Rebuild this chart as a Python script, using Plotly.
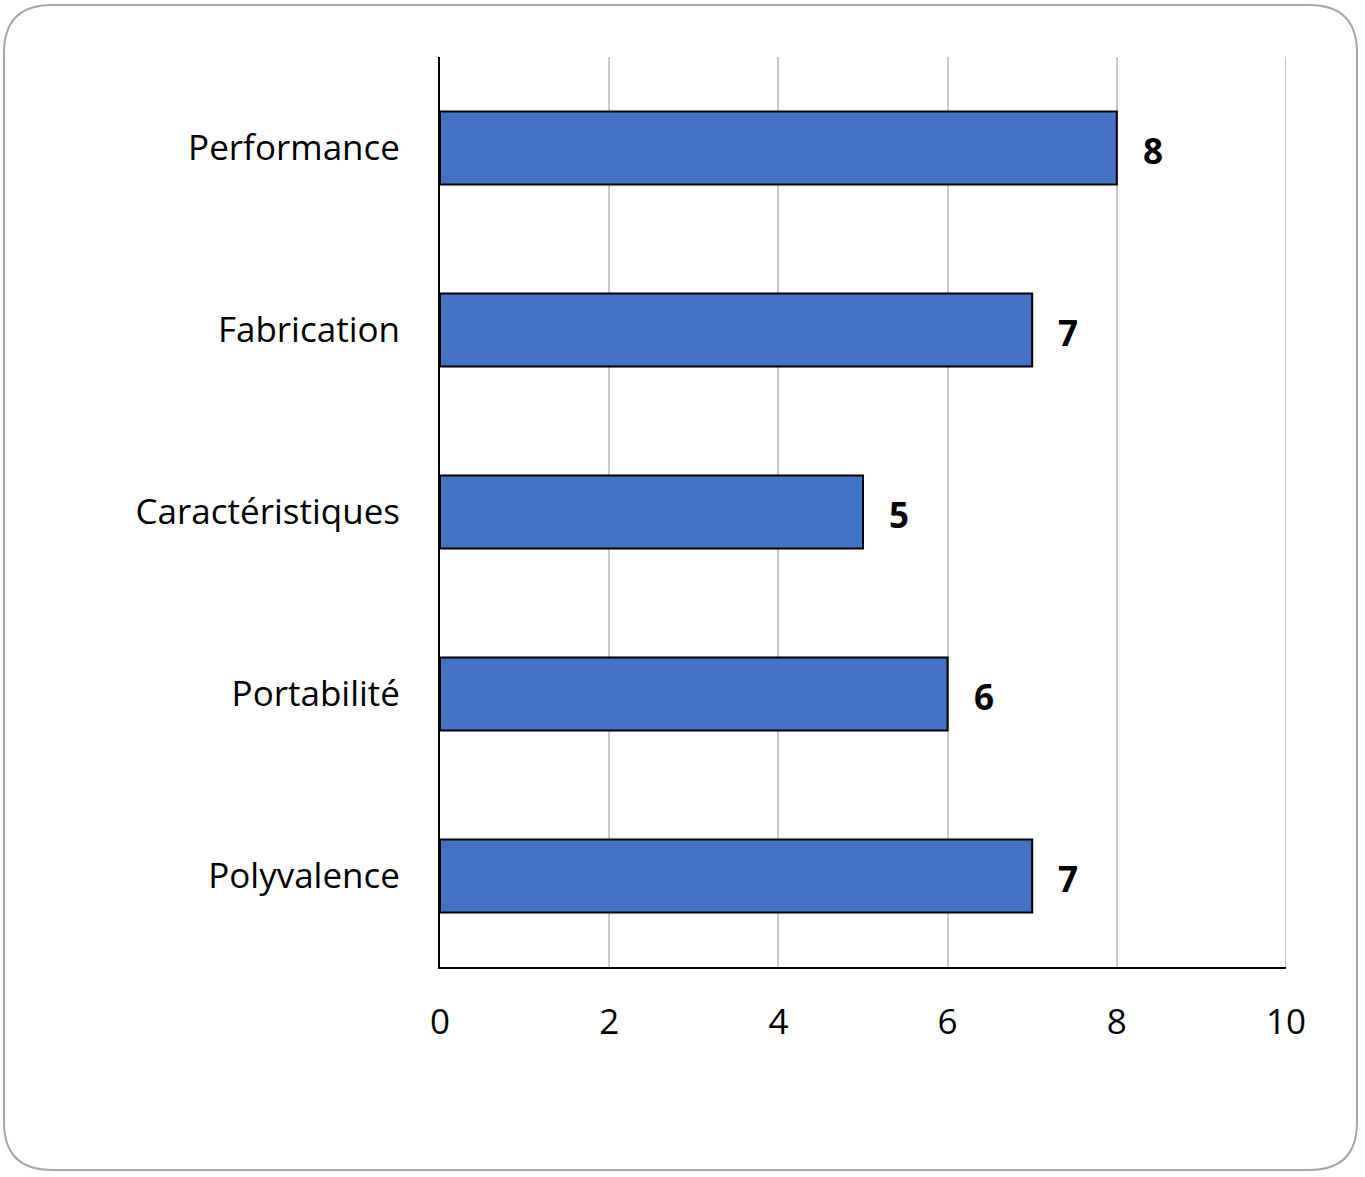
import plotly.graph_objects as go

categories = ["Performance", "Fabrication", "Caractéristiques", "Portabilité", "Polyvalence"]
values = [8, 7, 5, 6, 7]
x_ticks = [0, 2, 4, 6, 8, 10]

W, H = 1365, 1177
L, R, T, B = 440, 1286, 57, 967
FONT = "Open Sans, Noto Sans, sans-serif"

fig = go.Figure()
fig.add_trace(go.Bar(
    y=categories, x=values, orientation="h", width=0.4,
    marker=dict(color="#4472C4", line=dict(color="black", width=2)),
    hoverinfo="skip",
))

for c, v in zip(categories, values):
    fig.add_annotation(x=v, y=c, text=f"<b>{v}</b>", showarrow=False,
                       xanchor="left", xshift=24, yshift=-2,
                       font=dict(family=FONT, size=35, color="black"))

# right-end gridline at x = 10
fig.add_shape(type="line", xref="x", yref="paper", x0=x_ticks[-1], x1=x_ticks[-1], y0=0, y1=1,
              line=dict(color="#c8c8c8", width=2), layer="below")

# rounded border in paper coords
pw, ph = R - L, B - T
def px(x):
    return (x - L) / pw
def py(y):
    return (B - y) / ph
x0, x1, y0, y1, r = 4, 1357, 5, 1170, 48
path = (f"M {px(x0+r)},{py(y0)} L {px(x1-r)},{py(y0)} Q {px(x1)},{py(y0)} {px(x1)},{py(y0+r)} "
        f"L {px(x1)},{py(y1-r)} Q {px(x1)},{py(y1)} {px(x1-r)},{py(y1)} "
        f"L {px(x0+r)},{py(y1)} Q {px(x0)},{py(y1)} {px(x0)},{py(y1-r)} "
        f"L {px(x0)},{py(y0+r)} Q {px(x0)},{py(y0)} {px(x0+r)},{py(y0)} Z")
fig.add_shape(type="path", path=path, xref="paper", yref="paper",
              line=dict(color="#a6a6a6", width=2), layer="below")

fig.update_layout(
    width=W, height=H,
    margin=dict(l=L, r=W - R, t=T, b=H - B, pad=0),
    paper_bgcolor="white", plot_bgcolor="white",
    showlegend=False,
    font=dict(family=FONT, size=35, color="black"),
    xaxis=dict(range=[0, 10], tickvals=x_ticks, ticktext=[str(t) for t in x_ticks],
               showgrid=True, gridcolor="#c8c8c8", gridwidth=2,
               showline=True, linecolor="black", linewidth=2,
               ticks="", ticklabelstandoff=23, zeroline=False,
               tickfont=dict(family=FONT, size=35)),
    yaxis=dict(autorange="reversed", showline=True, linecolor="black", linewidth=2,
               ticks="", ticklabelstandoff=31, showgrid=False,
               tickfont=dict(family=FONT, size=35)),
)

fig.write_html("out.html", config={"displayModeBar": False},
               post_script="document.body.style.margin='0';")
